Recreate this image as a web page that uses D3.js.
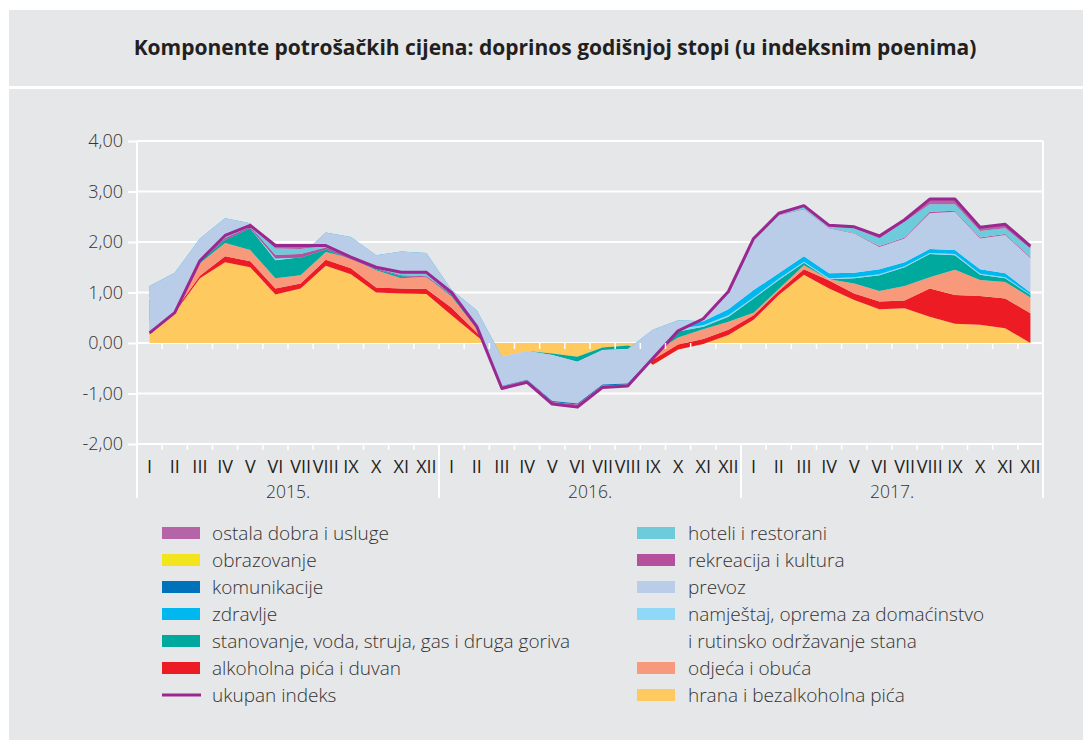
<!DOCTYPE html>
<html>
<head>
    <meta charset="utf-8" />
    <title>Komponente potrošačkih cijena</title>
    <script src="https://cdn.jsdelivr.net/npm/d3@7"></script>
    <style>
        body { margin: 0; background: #fff; }
        svg text { font-family: "Open Sans", "Noto Sans", sans-serif; }
    </style>
</head>
<body>
    <script>

        // ---- data (doprinos godišnjoj stopi, indeksni poeni) ----
        const months = ['I', 'II', 'III', 'IV', 'V', 'VI', 'VII', 'VIII', 'IX', 'X', 'XI', 'XII']
        const years = ['2015.', '2016.', '2017.']
        const yTicks = [-2, -1, 0, 1, 2, 3, 4]

        const hrana = [0.17, 0.60, 1.28, 1.60, 1.50, 0.96, 1.08, 1.53, 1.36, 1.00, 0.98, 0.97,
                       0.55, 0.14, -0.27, -0.16, -0.21, -0.27, -0.09, -0.05, -0.43, -0.13, -0.02, 0.16,
                       0.46, 0.95, 1.35, 1.08, 0.85, 0.67, 0.69, 0.52, 0.38, 0.36, 0.29, 0.00]
        const alkohol = [0.04, 0.04, 0.05, 0.12, 0.12, 0.12, 0.10, 0.12, 0.12, 0.10, 0.10, 0.10,
                         0.15, 0.07, 0.00, 0.00, 0.00, 0.00, 0.00, 0.00, 0.10, 0.10, 0.10, 0.10,
                         0.09, 0.08, 0.11, 0.16, 0.13, 0.15, 0.15, 0.56, 0.57, 0.57, 0.59, 0.59]
        const odjeca = [0.22, 0.18, 0.25, 0.26, 0.22, 0.20, 0.16, 0.15, 0.20, 0.34, 0.20, 0.24,
                        0.22, 0.07, 0.00, 0.00, 0.00, 0.00, 0.00, 0.00, 0.12, 0.14, 0.19, 0.16,
                        0.05, 0.04, 0.08, 0.02, 0.20, 0.21, 0.29, 0.22, 0.50, 0.32, 0.33, 0.31]
        const stanovanje = [0.42, 0.34, 0.36, 0.40, 0.43, 0.36, 0.36, 0.30, 0.30, 0.10, 0.30, 0.30,
                            0.05, 0.20, 0.00, 0.00, -0.03, -0.10, -0.05, -0.07, 0.20, 0.12, 0.05, 0.10,
                            0.28, 0.18, 0.05, 0.00, 0.10, 0.31, 0.37, 0.46, 0.29, 0.10, 0.07, 0.05]
        const namjestaj = [0.06, 0.06, 0.05, 0.04, 0.04, 0.03, 0.02, 0.04, 0.04, 0.04, 0.05, 0.05,
                           0.03, 0.05, 0.00, 0.00, 0.00, 0.00, 0.00, 0.00, 0.10, 0.05, 0.03, 0.03,
                           0.02, 0.02, 0.02, 0.02, 0.02, 0.02, 0.02, 0.02, 0.02, 0.02, 0.02, 0.01]
        const zdravlje = [0.22, 0.17, 0.08, 0.05, 0.06, 0.01, 0.01, 0.05, 0.08, 0.16, 0.18, 0.12,
                          0.05, 0.12, 0.00, 0.00, 0.00, 0.00, 0.00, 0.00, 0.17, 0.17, 0.08, 0.12,
                          0.15, 0.11, 0.11, 0.10, 0.09, 0.10, 0.08, 0.08, 0.08, 0.09, 0.08, 0.04]
        const prevoz = [-0.93, -0.79, -0.45, -0.43, -0.10, 0.00, -0.04, -0.34, -0.44, -0.28, -0.49, -0.48,
                        -0.10, -0.36, -0.58, -0.57, -0.91, -0.83, -0.68, -0.68, -0.53, -0.23, 0.03, 0.33,
                        0.97, 1.15, 0.93, 0.89, 0.78, 0.44, 0.47, 0.71, 0.76, 0.61, 0.76, 0.68]
        const komunikacije = [0, 0, 0, 0, 0, 0, 0, 0, 0, 0, 0, 0,
                              0, 0, -0.01, -0.01, -0.02, -0.02, -0.02, -0.02, -0.01, 0, 0, 0,
                              0, 0, 0, 0, 0, 0, 0, 0, 0, 0, 0, 0]
        const rekreacija = [0.00, 0.00, 0.01, 0.04, 0.03, 0.07, 0.07, 0.04, 0.02, 0.02, 0.02, 0.02,
                            0.02, 0.02, -0.02, -0.02, -0.02, -0.03, -0.02, -0.01, -0.01, 0.01, 0.01, 0.01,
                            0.01, 0.01, 0.01, 0.01, 0.01, 0.02, 0.02, 0.03, 0.02, 0.02, 0.02, 0.02]
        const obrazovanje = [0, 0, 0, 0, 0, 0, 0, 0, 0, 0, 0, 0,
                             0, 0, 0, 0, 0, 0, 0, 0, 0, 0, 0, 0,
                             0, 0, 0, 0, 0, 0, 0, 0, 0, 0, 0, 0]
        const hoteli = [0.00, 0.00, 0.00, 0.02, 0.02, 0.12, 0.10, 0.03, 0.01, 0.02, 0.05, 0.06,
                        0.02, 0.01, -0.01, -0.01, -0.01, -0.01, -0.01, -0.01, 0.00, 0.01, 0.01, 0.01,
                        0.02, 0.02, 0.04, 0.03, 0.09, 0.15, 0.31, 0.15, 0.13, 0.13, 0.11, 0.17]
        const ostala = [0.00, 0.00, 0.01, 0.03, 0.02, 0.06, 0.07, 0.02, 0.01, 0.00, 0.02, 0.02,
                        0.01, 0.01, -0.01, -0.01, -0.01, -0.01, -0.01, -0.01, -0.01, 0.00, 0.00, 0.00,
                        0.02, 0.01, 0.02, 0.02, 0.03, 0.05, 0.04, 0.10, 0.10, 0.07, 0.08, 0.05]
        const ukupno = [0.20, 0.60, 1.63, 2.13, 2.33, 1.93, 1.93, 1.93, 1.70, 1.50, 1.40, 1.40,
                        1.00, 0.33, -0.90, -0.78, -1.21, -1.27, -0.88, -0.85, -0.30, 0.24, 0.48, 1.02,
                        2.07, 2.57, 2.72, 2.33, 2.30, 2.12, 2.44, 2.85, 2.85, 2.29, 2.35, 1.92]

        // stacking order (COICOP 01 - 12), drawn in that order
        const components = [
            { key: 'hrana', name: 'hrana i bezalkoholna pića', values: hrana },
            { key: 'alkohol', name: 'alkoholna pića i duvan', values: alkohol },
            { key: 'odjeca', name: 'odjeća i obuća', values: odjeca },
            { key: 'stanovanje', name: 'stanovanje, voda, struja, gas i druga goriva', values: stanovanje },
            { key: 'namjestaj', name: ['namještaj, oprema za domaćinstvo', 'i rutinsko održavanje stana'], values: namjestaj },
            { key: 'zdravlje', name: 'zdravlje', values: zdravlje },
            { key: 'prevoz', name: 'prevoz', values: prevoz },
            { key: 'komunikacije', name: 'komunikacije', values: komunikacije },
            { key: 'rekreacija', name: 'rekreacija i kultura', values: rekreacija },
            { key: 'obrazovanje', name: 'obrazovanje', values: obrazovanje },
            { key: 'hoteli', name: 'hoteli i restorani', values: hoteli },
            { key: 'ostala', name: 'ostala dobra i usluge', values: ostala }
        ]

        const colors = {
            hrana: '#fec95f',
            alkohol: '#ed1c24',
            odjeca: '#f7997a',
            stanovanje: '#00a99d',
            namjestaj: '#8fd8f7',
            zdravlje: '#00b8f0',
            prevoz: '#b9cde9',
            komunikacije: '#0072bb',
            rekreacija: '#b5519c',
            obrazovanje: '#f2e51d',
            hoteli: '#6dcbdb',
            ostala: '#b565a7',
            ukupno: '#9a2890'
        }

        const legendLeft = ['ostala', 'obrazovanje', 'komunikacije', 'zdravlje', 'stanovanje', 'alkohol', 'ukupno']
        const legendRight = ['hoteli', 'rekreacija', 'prevoz', 'namjestaj', null, 'odjeca', 'hrana']

        // ---- chart ----
        const W = 1092, H = 740
        const plot = { left: 137, right: 1043, top: 141, bottom: 444 }
        const n = ukupno.length

        const svg = d3.select('body').append('svg')
            .attr('width', W)
            .attr('height', H)

        // panels
        svg.append('rect').attr('x', 9).attr('y', 10).attr('width', 1074).attr('height', 76).attr('fill', '#e6e7e8')
        svg.append('rect').attr('x', 9).attr('y', 89).attr('width', 1074).attr('height', 651).attr('fill', '#e6e7e8')

        svg.append('text')
            .attr('x', 555).attr('y', 55)
            .attr('text-anchor', 'middle')
            .attr('font-size', 21)
            .attr('font-weight', 700)
            .attr('fill', '#231f20')
            .text('Komponente potrošačkih cijena: doprinos godišnjoj stopi (u indeksnim poenima)')

        const x = d3.scaleBand().domain(d3.range(n)).range([plot.left, plot.right])
        const xc = i => x(i) + x.bandwidth() / 2
        const y = d3.scaleLinear().domain([-2, 4]).range([plot.bottom, plot.top])

        const locale = d3.formatLocale({ decimal: ',', thousands: '.', grouping: [3], currency: ['', ''], minus: '-' })
        const fmt = locale.format('.2f')

        // gridlines
        svg.append('g').selectAll('line')
            .data(yTicks)
            .enter().append('line')
            .attr('x1', plot.left).attr('x2', plot.right)
            .attr('y1', d => y(d)).attr('y2', d => y(d))
            .attr('stroke', '#fff').attr('stroke-width', 2)

        // stacked areas (plain cumulative stacking, negatives included)
        const rows = d3.range(n).map(i => {
            let r = {}
            components.forEach(c => { r[c.key] = c.values[i] })
            return r
        })
        const stacked = d3.stack().keys(components.map(c => c.key))(rows)

        const area = d3.area()
            .x((d, i) => xc(i))
            .y0(d => y(d[0]))
            .y1(d => y(d[1]))

        svg.append('g').selectAll('path')
            .data(stacked)
            .enter().append('path')
            .attr('d', area)
            .attr('fill', d => colors[d.key])

        // ukupan indeks
        const line = d3.line().x((d, i) => xc(i)).y(d => y(d))
        svg.append('path')
            .datum(ukupno)
            .attr('d', line)
            .attr('fill', 'none')
            .attr('stroke', colors.ukupno)
            .attr('stroke-width', 3)
            .attr('stroke-linejoin', 'round')

        // y axis
        const yAxis = d3.axisLeft(y).tickValues(yTicks).tickFormat(fmt).tickSize(9).tickPadding(5)
        svg.append('g')
            .attr('transform', `translate(${plot.left},0)`)
            .call(yAxis)
            .call(g => g.select('.domain').remove())
            .call(g => g.selectAll('line').attr('stroke', '#fff').attr('stroke-width', 2))
            .call(g => g.selectAll('text').attr('font-size', 18).attr('font-weight', 300).attr('fill', '#333').attr('font-family', '"Open Sans", "Noto Sans", sans-serif'))

        // frame lines
        svg.append('line').attr('x1', plot.left).attr('x2', plot.left).attr('y1', plot.top).attr('y2', 498)
            .attr('stroke', '#fff').attr('stroke-width', 2)
        svg.append('line').attr('x1', plot.right).attr('x2', plot.right).attr('y1', plot.top).attr('y2', 498)
            .attr('stroke', '#fff').attr('stroke-width', 2)
        svg.append('g').selectAll('line')
            .data([12, 24])
            .enter().append('line')
            .attr('x1', d => x(d)).attr('x2', d => x(d))
            .attr('y1', plot.bottom).attr('y2', 498)
            .attr('stroke', '#fff').attr('stroke-width', 2)

        // small ticks on zero line and bottom line
        const tickIdx = d3.range(1, n)
        ;[0, -2].forEach(v => {
            svg.append('g').selectAll('line')
                .data(tickIdx)
                .enter().append('line')
                .attr('x1', d => x(d)).attr('x2', d => x(d))
                .attr('y1', y(v)).attr('y2', y(v) + 6)
                .attr('stroke', '#fff').attr('stroke-width', 1.5)
        })

        // month labels
        const xAxis = d3.axisBottom(x).tickFormat(i => months[i % 12]).tickSize(0).tickPadding(16)
        svg.append('g')
            .attr('transform', `translate(0,${plot.bottom})`)
            .call(xAxis)
            .call(g => g.select('.domain').remove())
            .call(g => g.selectAll('text').attr('font-size', 18).attr('fill', '#231f20').attr('font-family', '"Open Sans", "Noto Sans", sans-serif'))

        // year labels
        svg.append('g').selectAll('text')
            .data(years)
            .enter().append('text')
            .attr('x', (d, i) => (x(i * 12) + x(i * 12 + 11) + x.bandwidth()) / 2)
            .attr('y', 498)
            .attr('text-anchor', 'middle')
            .attr('font-size', 17.5)
            .attr('font-weight', 300)
            .attr('fill', '#333')
            .text(d => d)

        // legend
        const byKey = {}
        components.forEach(c => { byKey[c.key] = c })
        byKey.ukupno = { key: 'ukupno', name: 'ukupan indeks' }

        function renderLegendColumn(keys, sx, tx) {
            keys.forEach((k, row) => {
                if (!k) return
                const cy = 533 + row * 27
                const g = svg.append('g')
                if (k === 'ukupno') {
                    g.append('line')
                        .attr('x1', sx).attr('x2', sx + 39)
                        .attr('y1', cy).attr('y2', cy)
                        .attr('stroke', colors.ukupno).attr('stroke-width', 3)
                } else {
                    g.append('rect')
                        .attr('x', sx).attr('y', cy - 6)
                        .attr('width', 38).attr('height', 12)
                        .attr('fill', colors[k])
                }
                const names = [].concat(byKey[k].name)
                const t = g.append('text')
                    .attr('x', tx).attr('y', cy + 6.5)
                    .attr('font-size', 19)
                    .attr('font-weight', 300)
                    .attr('fill', '#333')
                names.forEach((s, j) => {
                    t.append('tspan').attr('x', tx).attr('dy', j === 0 ? 0 : 27).text(s)
                })
            })
        }

        renderLegendColumn(legendLeft, 162, 212)
        renderLegendColumn(legendRight, 637, 688)

    </script>
</body>
</html>
